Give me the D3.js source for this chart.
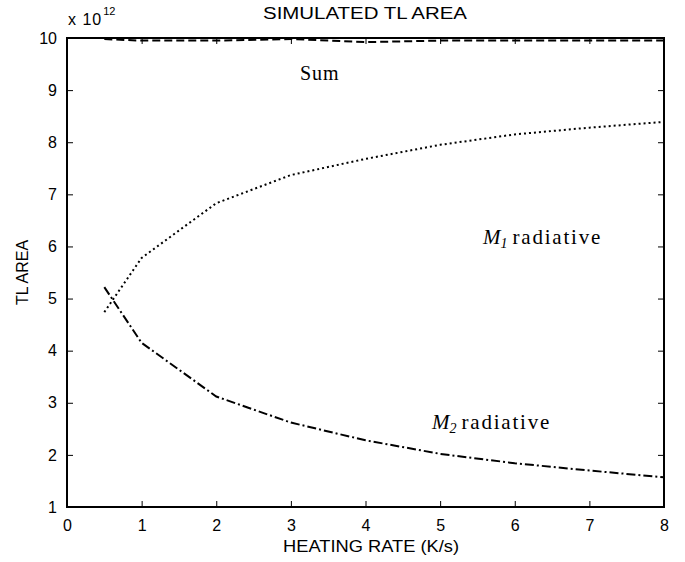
<!DOCTYPE html>
<html>
<head>
<meta charset="utf-8">
<script src="https://cdn.jsdelivr.net/npm/d3@7"></script>
<style>
  body { margin: 0; background: #fff; }
  svg { display: block; }
</style>
</head>
<body>
<svg id="chart" width="685" height="562"></svg>
<script>
// heating rates (K/s)
const rates = [0.5, 1, 2, 3, 4, 5, 6, 7, 8];
// TL areas, in units of 1e12
const sumArea = [9.98, 9.95, 9.95, 9.98, 9.92, 9.95, 9.95, 9.95, 9.95];
const m1Area = [4.74, 5.78, 6.83, 7.37, 7.68, 7.95, 8.15, 8.28, 8.39];
const m2Area = [5.22, 4.15, 3.12, 2.62, 2.28, 2.02, 1.84, 1.70, 1.57];
const xTicks = [0, 1, 2, 3, 4, 5, 6, 7, 8];
const yTicks = [1, 2, 3, 4, 5, 6, 7, 8, 9, 10];

var width = 685, height = 562;
var margin = {top: 38, right: 21, bottom: 55, left: 67};
var svg = d3.select("#chart");

var x = d3.scaleLinear().domain([0, 8]).range([margin.left, width - margin.right]);
var y = d3.scaleLinear().domain([1, 10]).range([height - margin.bottom, margin.top]);

const sansFont = "'Liberation Sans', Arial, sans-serif";
const serifFont = "'Liberation Serif', 'Times New Roman', serif";

// axes, ticks point inward like matlab
function styleAxis(g, showLabels) {
  g.select(".domain").remove();
  g.selectAll(".tick line").attr("stroke", "#000").attr("stroke-width", 1);
  g.selectAll(".tick text")
    .attr("font-family", sansFont)
    .attr("font-size", 16)
    .attr("fill", "#000")
    .style("display", showLabels ? null : "none");
}

svg.append("g")
  .attr("transform", `translate(0,${y(1)})`)
  .call(d3.axisBottom(x).tickValues(xTicks).tickSize(-6).tickPadding(13).tickFormat(d3.format("d")))
  .call(g => styleAxis(g, true));
svg.append("g")
  .attr("transform", `translate(0,${y(10)})`)
  .call(d3.axisTop(x).tickValues(xTicks).tickSize(-6))
  .call(g => styleAxis(g, false));
svg.append("g")
  .attr("transform", `translate(${x(0)},0)`)
  .call(d3.axisLeft(y).tickValues(yTicks).tickSize(-6).tickPadding(10).tickFormat(d3.format("d")))
  .call(g => styleAxis(g, true));
svg.append("g")
  .attr("transform", `translate(${x(8)},0)`)
  .call(d3.axisRight(y).tickValues(yTicks).tickSize(-6))
  .call(g => styleAxis(g, false));

// frame
svg.append("rect")
  .attr("x", x(0)).attr("y", y(10))
  .attr("width", x(8) - x(0)).attr("height", y(1) - y(10))
  .attr("fill", "none").attr("stroke", "#000").attr("stroke-width", 2);

var line = d3.line().x(d => x(d[0])).y(d => y(d[1]));
var series = [
  {vals: sumArea, dash: "8,4"},
  {vals: m1Area, dash: "2,3"},
  {vals: m2Area, dash: "9,3,2,3"}
];
series.forEach(s => {
  svg.append("path")
    .datum(rates.map((r, i) => [r, s.vals[i]]))
    .attr("d", line)
    .attr("fill", "none")
    .attr("stroke", "#000")
    .attr("stroke-width", 2)
    .attr("stroke-dasharray", s.dash);
});

// titles (the original text is a bit wide, so stretch it)
svg.append("text")
  .attr("x", 263).attr("y", 19)
  .attr("font-family", sansFont).attr("font-size", 16)
  .attr("textLength", 204).attr("lengthAdjust", "spacingAndGlyphs")
  .text("SIMULATED TL AREA");
svg.append("text")
  .attr("x", 283).attr("y", 552)
  .attr("font-family", sansFont).attr("font-size", 16)
  .attr("textLength", 176).attr("lengthAdjust", "spacingAndGlyphs")
  .text("HEATING RATE (K/s)");
svg.append("text")
  .attr("transform", `translate(28,${(y(1) + y(10)) / 2}) rotate(-90)`)
  .attr("text-anchor", "middle")
  .attr("font-family", sansFont).attr("font-size", 16)
  .text("TL AREA");

// exponent label
var expo = svg.append("text")
  .attr("x", 68).attr("y", 25)
  .attr("font-family", sansFont).attr("font-size", 16);
expo.append("tspan").attr("letter-spacing", 1).text("x 10");
expo.append("tspan").attr("dx", 1).attr("dy", -10).attr("font-size", 11).text("12");

// curve labels
svg.append("text")
  .attr("x", 300).attr("y", 80)
  .attr("font-family", serifFont).attr("font-size", 20)
  .attr("letter-spacing", 1)
  .text("Sum");

function mLabel(px, py, sub) {
  var t = svg.append("text")
    .attr("x", px).attr("y", py)
    .attr("font-family", serifFont).attr("font-size", 21);
  t.append("tspan").attr("font-style", "italic").text("M");
  t.append("tspan").attr("font-style", "italic").attr("font-size", 14).attr("dy", 4).text(sub);
  t.append("tspan").attr("dy", -4).attr("dx", 5).attr("letter-spacing", 1.8).text("radiative");
}
mLabel(483, 244, "1");
mLabel(432, 429, "2");
</script>
</body>
</html>
